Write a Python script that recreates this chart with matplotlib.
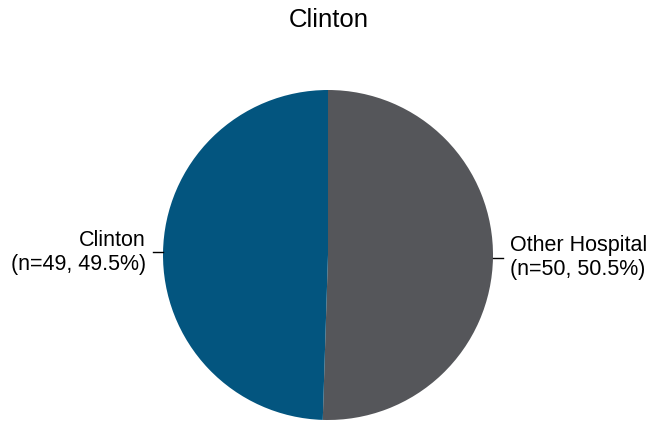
import numpy as np
import matplotlib.pyplot as plt

plt.rcParams['font.family'] = ['Liberation Sans', 'DejaVu Sans']

labels = ['Other Hospital', 'Clinton']
counts = [50, 49]
colors = ['#55565A', '#03557F']
title = 'Clinton'


def main():
    W, H = 648, 422
    fig = plt.figure(figsize=(W / 100, H / 100), dpi=100)
    cx, cy, r = 328, 255, 165
    ax = fig.add_axes([(cx - r) / W, (H - cy - r) / H, 2 * r / W, 2 * r / H])
    total = sum(counts)
    wedges, _ = ax.pie(counts, colors=colors, startangle=90, counterclock=False,
                       radius=1, wedgeprops=dict(linewidth=0))
    ax.set_xlim(-1, 1)
    ax.set_ylim(-1, 1)
    ax.axis('off')

    for w, lab, n in zip(wedges, labels, counts):
        ang = np.deg2rad((w.theta1 + w.theta2) / 2)
        x, y = np.cos(ang), np.sin(ang)
        side = 1 if x >= 0 else -1
        ax.plot([side * 1.0, side * 1.06], [y, y], color='black', lw=1, clip_on=False)
        ha = 'left' if side > 0 else 'right'
        ax.text(side * 1.105, y, f'{lab}\n(n={n}, {n / total * 100:.1f}%)',
                ha=ha, va='center', fontsize=15.5, multialignment=ha)

    fig.text(329 / W, 1 - 20 / H, title, ha='center', va='center', fontsize=18.5)
    fig.savefig('out.png', dpi=100)


if __name__ == '__main__':
    main()
